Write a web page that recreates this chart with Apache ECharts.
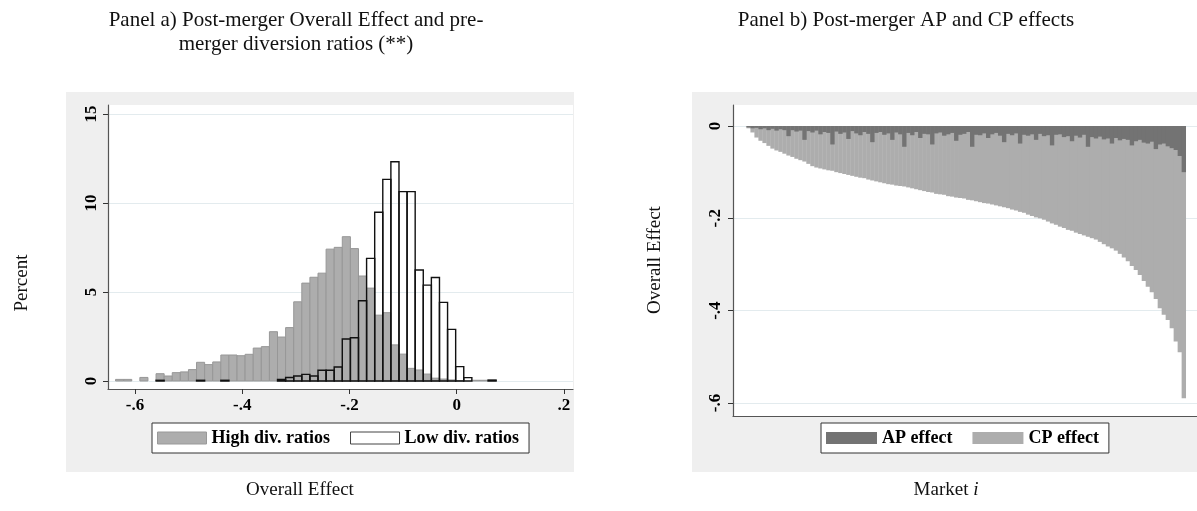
<!DOCTYPE html>
<html>
<head>
<meta charset="utf-8">
<script src="https://cdn.jsdelivr.net/npm/echarts@6/dist/echarts.min.js"></script>
<style>
    html, body { margin: 0; padding: 0; background: #fff; }
    #main { width: 1197px; height: 511px; }
</style>
</head>
<body>
<div id="main"></div>
<script>
/**
 * Panel a: histogram of overall effect, high vs low diversion ratios
 * Panel b: AP and CP effects per market, sorted
 */
var binWidth = 0.0151;
var binLeft = [
    -0.6362, -0.6211, -0.6060, -0.5909, -0.5758, -0.5607, -0.5456, -0.5305, -0.5154, -0.5003,
    -0.4852, -0.4701, -0.4550, -0.4399, -0.4248, -0.4097, -0.3946, -0.3795, -0.3644, -0.3493,
    -0.3342, -0.3191, -0.3040, -0.2889, -0.2738, -0.2587, -0.2436, -0.2285, -0.2134, -0.1983,
    -0.1832, -0.1681, -0.1530, -0.1379, -0.1228, -0.1077, -0.0926, -0.0775, -0.0624, -0.0473,
    -0.0322, -0.0171, -0.0020, 0.0131, 0.0282, 0.0433, 0.0584
];
// percent of markets, high diversion ratios
var highDiv = [
    0.09, 0.09, 0, 0.2, 0, 0.41, 0.28, 0.47, 0.51, 0.64,
    1.05, 0.92, 1.07, 1.46, 1.46, 1.42, 1.5, 1.85, 1.93, 2.77,
    2.47, 3.0, 4.45, 5.5, 5.83, 6.06, 7.41, 7.51, 8.11, 7.44,
    5.9, 5.22, 3.7, 3.84, 2.03, 1.51, 0.71, 0.62, 0.39, 0.16,
    0.11, 0.06, 0.02, 0, 0.04, 0.04, 0.05
];
// percent of markets, low diversion ratios
var lowDiv = [
    0, 0, 0, 0, 0, 0.04, 0, 0, 0, 0,
    0.04, 0, 0, 0.04, 0, 0, 0, 0, 0, 0,
    0.08, 0.2, 0.28, 0.37, 0.28, 0.6, 0.6, 0.79, 2.36, 2.43,
    4.51, 6.89, 9.48, 11.33, 12.32, 10.64, 10.64, 6.24, 5.39, 5.82,
    4.42, 2.9, 0.81, 0.19, 0, 0, 0.05
];
var histTicks = [-0.6, -0.4, -0.2, 0, 0.2];
var percentTicks = [0, 5, 10, 15];

// markets sorted by overall effect
var overallEffect = [
    -0.005, -0.014, -0.025, -0.032, -0.037, -0.043, -0.049, -0.053, -0.056, -0.060,
    -0.064, -0.067, -0.071, -0.074, -0.077, -0.082, -0.087, -0.090, -0.092, -0.094,
    -0.096, -0.097, -0.100, -0.102, -0.104, -0.106, -0.108, -0.110, -0.112, -0.113,
    -0.116, -0.118, -0.120, -0.122, -0.124, -0.126, -0.127, -0.129, -0.130, -0.131,
    -0.133, -0.135, -0.137, -0.139, -0.141, -0.143, -0.144, -0.147, -0.148, -0.149,
    -0.152, -0.153, -0.155, -0.156, -0.157, -0.160, -0.161, -0.163, -0.165, -0.167,
    -0.168, -0.170, -0.172, -0.174, -0.176, -0.178, -0.181, -0.183, -0.186, -0.188,
    -0.192, -0.195, -0.198, -0.200, -0.203, -0.207, -0.211, -0.214, -0.218, -0.221,
    -0.225, -0.227, -0.231, -0.234, -0.237, -0.240, -0.243, -0.246, -0.251, -0.256,
    -0.261, -0.265, -0.270, -0.277, -0.285, -0.293, -0.303, -0.312, -0.323, -0.336,
    -0.348, -0.360, -0.375, -0.395, -0.409, -0.420, -0.438, -0.467, -0.490, -0.590
];
var apEffect = [
    -0.003, -0.005, -0.004, -0.007, -0.005, -0.009, -0.006, -0.010, -0.007, -0.009,
    -0.022, -0.009, -0.012, -0.010, -0.030, -0.011, -0.014, -0.010, -0.018, -0.013,
    -0.015, -0.040, -0.012, -0.017, -0.014, -0.028, -0.011, -0.016, -0.020, -0.013,
    -0.017, -0.035, -0.015, -0.013, -0.019, -0.016, -0.030, -0.014, -0.018, -0.045,
    -0.015, -0.020, -0.013, -0.026, -0.017, -0.018, -0.040, -0.016, -0.014, -0.021,
    -0.018, -0.015, -0.032, -0.019, -0.017, -0.013, -0.045, -0.019, -0.020, -0.016,
    -0.026, -0.018, -0.015, -0.021, -0.035, -0.017, -0.020, -0.016, -0.038, -0.019,
    -0.021, -0.018, -0.030, -0.017, -0.022, -0.020, -0.042, -0.019, -0.018, -0.024,
    -0.022, -0.033, -0.021, -0.025, -0.019, -0.045, -0.024, -0.027, -0.023, -0.029,
    -0.027, -0.038, -0.026, -0.031, -0.028, -0.030, -0.042, -0.033, -0.030, -0.036,
    -0.038, -0.034, -0.050, -0.040, -0.038, -0.044, -0.048, -0.052, -0.065, -0.100
];
var effectTicks = [0, -0.2, -0.4, -0.6];

var serif = 'Liberation Serif';
var axisColor = '#555';
var gridColor = '#e3ebee';

var chart = echarts.init(document.getElementById('main'), null, { renderer: 'canvas' });

// '-0.6' -> '-.6' like Stata
function stataLabel(v) {
    return String(+v.toFixed(2)).replace('0.', '.');
}

function histBar(fill, stroke, lw) {
    return function (params, api) {
        var h = api.value(1);
        if (!h) return;
        var p0 = api.coord([api.value(0), 0]);
        var p1 = api.coord([api.value(0) + binWidth, h]);
        return {
            type: 'rect',
            shape: { x: p0[0], y: p1[1], width: p1[0] - p0[0], height: p0[1] - p1[1] },
            style: { fill: fill, stroke: stroke, lineWidth: lw }
        };
    };
}

function marketBar(fill) {
    return function (params, api) {
        var p0 = api.coord([api.value(0), 0]);
        var p1 = api.coord([api.value(0) + 1, api.value(1)]);
        return {
            type: 'rect',
            shape: { x: p0[0], y: p0[1], width: p1[0] - p0[0] + 0.4, height: p1[1] - p0[1] },
            style: { fill: fill }
        };
    };
}

function pairs(xs, ys) {
    var out = [];
    for (var i = 0; i < ys.length; i++) {
        out.push([xs ? xs[i] : i, ys[i]]);
    }
    return out;
}

var tickLabel = { fontFamily: serif, fontWeight: 'bold', fontSize: 17, color: '#000' };
var legendText = { fontFamily: serif, fontWeight: 'bold', fontSize: 18, color: '#000' };

var option = {
    animation: false,
    graphic: [
        { type: 'rect', z: -1, silent: true, shape: { x: 66, y: 92, width: 508, height: 380 }, style: { fill: '#efefef' } },
        { type: 'rect', z: -1, silent: true, shape: { x: 692, y: 92, width: 505, height: 380 }, style: { fill: '#efefef' } },
        { type: 'text', x: 296, y: 20, style: { text: 'Panel a) Post-merger Overall Effect and pre-', font: '21px ' + serif, fill: '#111', align: 'center', verticalAlign: 'middle' } },
        { type: 'text', x: 296, y: 44, style: { text: 'merger diversion ratios (**)', font: '21px ' + serif, fill: '#111', align: 'center', verticalAlign: 'middle' } },
        { type: 'text', x: 906, y: 20, style: { text: 'Panel b) Post-merger AP and CP effects', font: '21px ' + serif, fill: '#111', align: 'center', verticalAlign: 'middle' } },
        { type: 'text', x: 22, y: 283, rotation: Math.PI / 2, style: { text: 'Percent', font: '19px ' + serif, fill: '#111', align: 'center', verticalAlign: 'middle' } },
        { type: 'text', x: 655, y: 260, rotation: Math.PI / 2, style: { text: 'Overall Effect', font: '19px ' + serif, fill: '#111', align: 'center', verticalAlign: 'middle' } },
        { type: 'text', x: 300, y: 490, style: { text: 'Overall Effect', font: '19px ' + serif, fill: '#111', align: 'center', verticalAlign: 'middle' } },
        {
            type: 'text', x: 946, y: 490,
            style: {
                text: 'Market {i|i}', font: '19px ' + serif, fill: '#111', align: 'center', verticalAlign: 'middle',
                rich: { i: { fontStyle: 'italic', fontFamily: serif, fontSize: 19, fill: '#111' } }
            }
        }
    ],
    legend: [{
        left: 152, top: 423,
        padding: [6, 10, 6, 5],
        itemWidth: 49, itemHeight: 12, itemGap: 20,
        icon: 'rect',
        selectedMode: false,
        backgroundColor: '#fff', borderColor: '#333', borderWidth: 1, borderRadius: 0,
        textStyle: legendText,
        data: [
            { name: 'High div. ratios', itemStyle: { color: '#adadad', borderColor: '#999', borderWidth: 1 } },
            { name: 'Low div. ratios', itemStyle: { color: '#fff', borderColor: '#444', borderWidth: 1 } }
        ]
    }, {
        left: 821, top: 423,
        padding: [6, 10, 6, 5],
        itemWidth: 51, itemHeight: 12, itemGap: 20,
        icon: 'rect',
        selectedMode: false,
        backgroundColor: '#fff', borderColor: '#333', borderWidth: 1, borderRadius: 0,
        textStyle: legendText,
        data: [
            { name: 'AP effect', itemStyle: { color: '#737373' } },
            { name: 'CP effect', itemStyle: { color: '#adadad' } }
        ]
    }],
    grid: [
        { left: 108, top: 105, width: 465, height: 284, show: true, backgroundColor: '#fff', borderWidth: 0 },
        { left: 733, top: 105, width: 464, height: 311, show: true, backgroundColor: '#fff', borderWidth: 0 }
    ],
    xAxis: [{
        gridIndex: 0, type: 'value', min: -0.6503, max: 0.2168,
        axisLine: { onZero: false, lineStyle: { color: axisColor, width: 1.2 } },
        axisTick: { show: true, length: 5, customValues: histTicks, lineStyle: { color: '#333' } },
        axisLabel: Object.assign({ margin: 8, customValues: histTicks, formatter: stataLabel }, tickLabel),
        splitLine: { show: false }
    }, {
        gridIndex: 1, type: 'value', min: -3.36, max: 112.85,
        axisLine: { onZero: false, lineStyle: { color: axisColor, width: 1.2 } },
        axisTick: { show: false },
        axisLabel: { show: false },
        splitLine: { show: false }
    }],
    yAxis: [{
        gridIndex: 0, type: 'value', min: -0.45, max: 15.51,
        axisLine: { show: true, onZero: false, lineStyle: { color: axisColor, width: 1.2 } },
        axisTick: { show: true, length: 5, customValues: percentTicks, lineStyle: { color: '#333' } },
        axisLabel: Object.assign({ margin: 8, rotate: 90, customValues: percentTicks }, tickLabel),
        splitLine: { show: true, lineStyle: { color: gridColor, width: 1 } }
    }, {
        gridIndex: 1, type: 'value', min: -0.6282, max: 0.0455,
        axisLine: { show: true, onZero: false, lineStyle: { color: axisColor, width: 1.2 } },
        axisTick: { show: true, length: 5, customValues: effectTicks, lineStyle: { color: '#333' } },
        axisLabel: Object.assign({ margin: 9, rotate: 90, customValues: effectTicks, formatter: stataLabel }, tickLabel),
        splitLine: { show: true, lineStyle: { color: gridColor, width: 1 } }
    }],
    series: [{
        name: 'High div. ratios',
        type: 'custom',
        xAxisIndex: 0, yAxisIndex: 0,
        clip: true,
        itemStyle: { color: '#adadad' },
        renderItem: histBar('#adadad', '#979797', 1),
        data: pairs(binLeft, highDiv)
    }, {
        name: 'Low div. ratios',
        type: 'custom',
        xAxisIndex: 0, yAxisIndex: 0,
        clip: true,
        itemStyle: { color: '#fff' },
        renderItem: histBar('rgba(0,0,0,0)', '#111', 1.4),
        data: pairs(binLeft, lowDiv)
    }, {
        name: 'CP effect',
        type: 'custom',
        xAxisIndex: 1, yAxisIndex: 1,
        clip: true,
        itemStyle: { color: '#adadad' },
        renderItem: marketBar('#adadad'),
        data: pairs(null, overallEffect)
    }, {
        name: 'AP effect',
        type: 'custom',
        xAxisIndex: 1, yAxisIndex: 1,
        clip: true,
        itemStyle: { color: '#737373' },
        renderItem: marketBar('#737373'),
        data: pairs(null, apEffect)
    }]
};

chart.setOption(option);
</script>
</body>
</html>
